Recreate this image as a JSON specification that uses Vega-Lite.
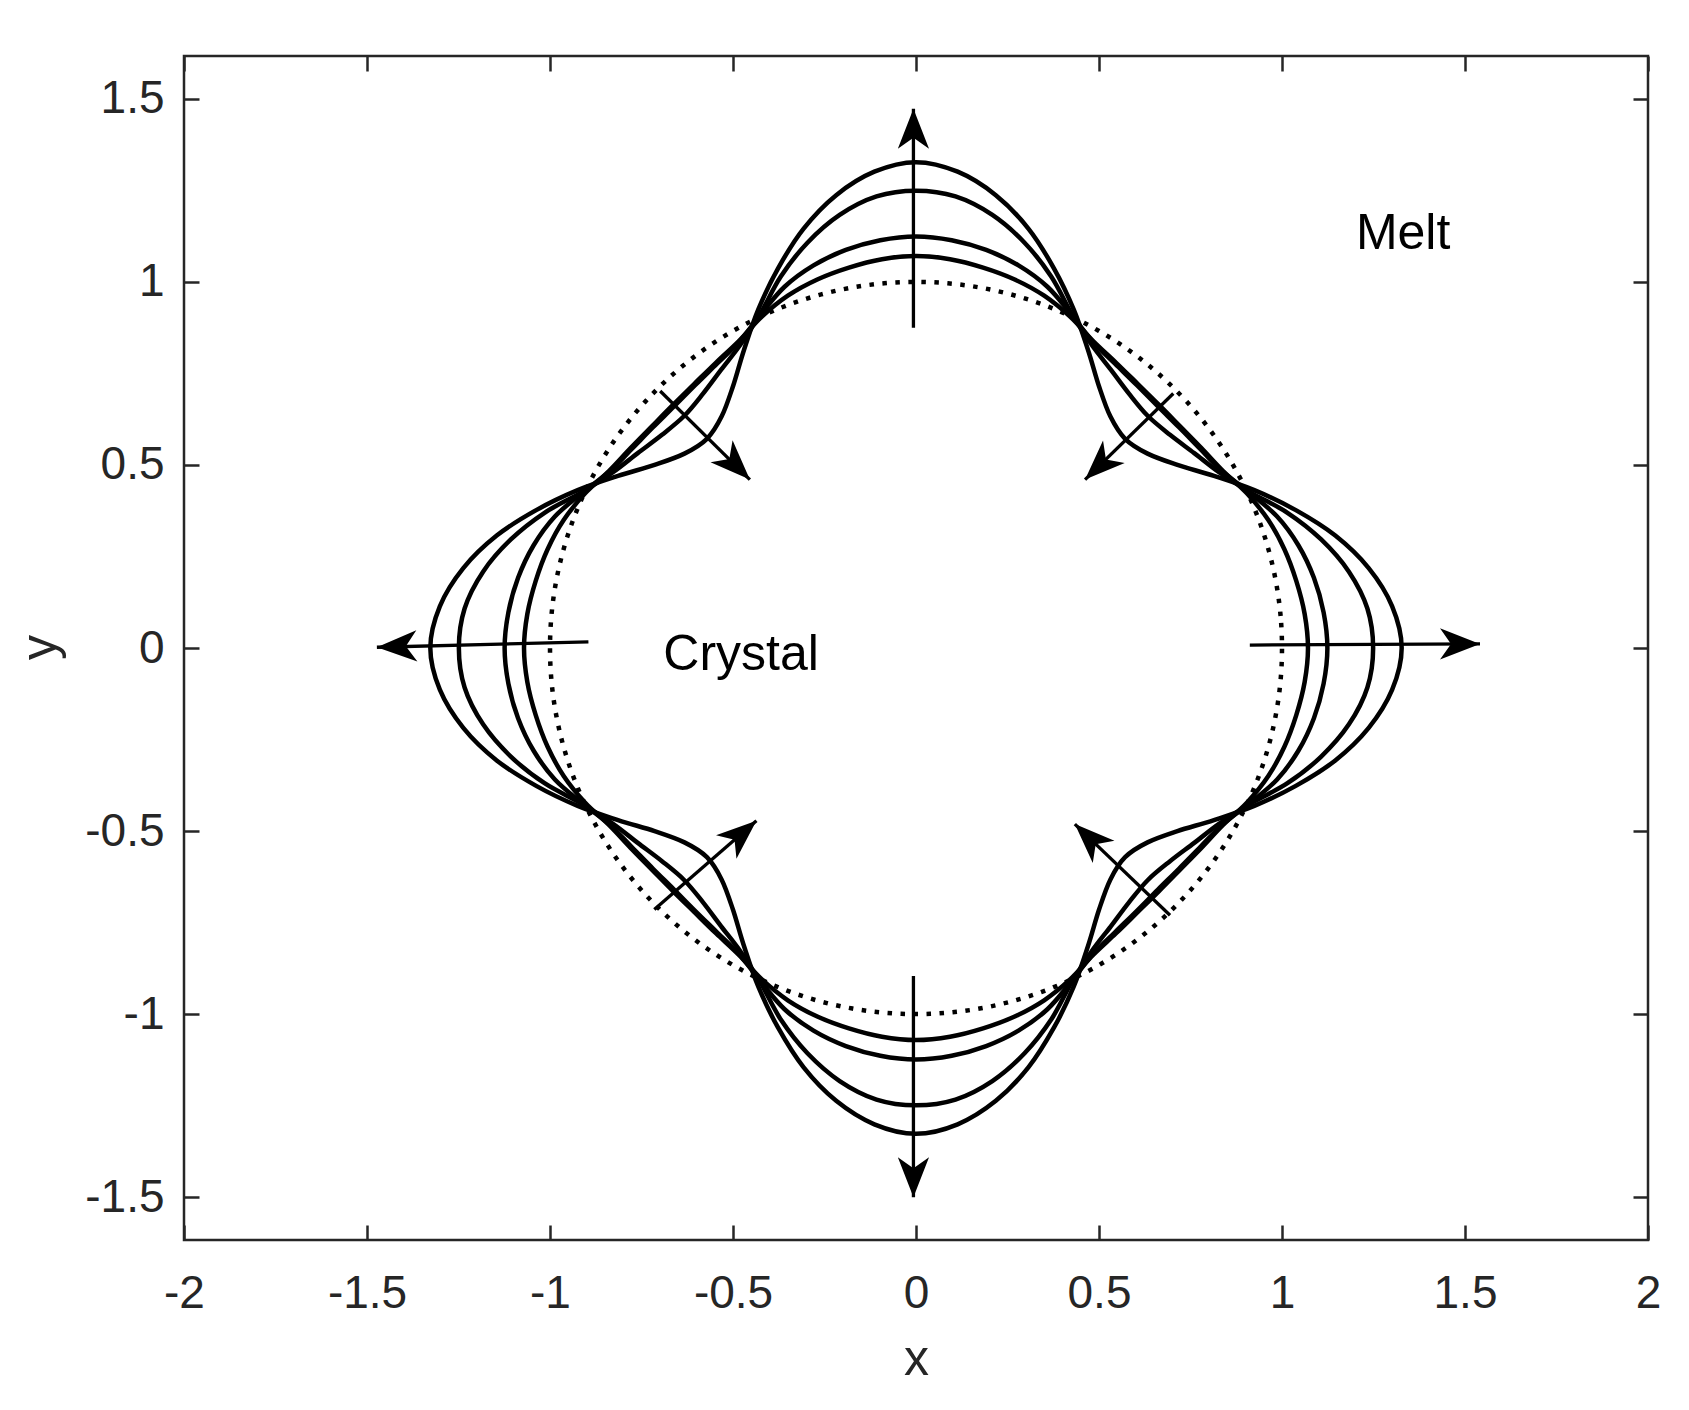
{
"$schema":"https://vega.github.io/schema/vega-lite/v6.json",
"width":1464,"height":1184,
"autosize":"none",
"padding":{"left":184,"top":56,"right":41,"bottom":170},
"background":"white",
"config":{"view":{"stroke":"#262626","strokeWidth":2.5},"font":"Liberation Sans"},
"datasets":{
"circle":[
{"i":0,"x":1,"y":0},{"i":1,"x":0.9962,"y":0.0872},{"i":2,"x":0.9848,"y":0.1736},{"i":3,"x":0.9659,"y":0.2588},{"i":4,"x":0.9397,"y":0.342},{"i":5,"x":0.9063,"y":0.4226},{"i":6,"x":0.866,"y":0.5},{"i":7,"x":0.8192,"y":0.5736},{"i":8,"x":0.766,"y":0.6428},{"i":9,"x":0.7071,"y":0.7071},
{"i":10,"x":0.6428,"y":0.766},{"i":11,"x":0.5736,"y":0.8192},{"i":12,"x":0.5,"y":0.866},{"i":13,"x":0.4226,"y":0.9063},{"i":14,"x":0.342,"y":0.9397},{"i":15,"x":0.2588,"y":0.9659},{"i":16,"x":0.1736,"y":0.9848},{"i":17,"x":0.0872,"y":0.9962},{"i":18,"x":0,"y":1},
{"i":19,"x":-0.0872,"y":0.9962},{"i":20,"x":-0.1736,"y":0.9848},{"i":21,"x":-0.2588,"y":0.9659},{"i":22,"x":-0.342,"y":0.9397},{"i":23,"x":-0.4226,"y":0.9063},{"i":24,"x":-0.5,"y":0.866},{"i":25,"x":-0.5736,"y":0.8192},{"i":26,"x":-0.6428,"y":0.766},{"i":27,"x":-0.7071,"y":0.7071},
{"i":28,"x":-0.766,"y":0.6428},{"i":29,"x":-0.8192,"y":0.5736},{"i":30,"x":-0.866,"y":0.5},{"i":31,"x":-0.9063,"y":0.4226},{"i":32,"x":-0.9397,"y":0.342},{"i":33,"x":-0.9659,"y":0.2588},{"i":34,"x":-0.9848,"y":0.1736},{"i":35,"x":-0.9962,"y":0.0872},{"i":36,"x":-1,"y":0},
{"i":37,"x":-0.9962,"y":-0.0872},{"i":38,"x":-0.9848,"y":-0.1736},{"i":39,"x":-0.9659,"y":-0.2588},{"i":40,"x":-0.9397,"y":-0.342},{"i":41,"x":-0.9063,"y":-0.4226},{"i":42,"x":-0.866,"y":-0.5},{"i":43,"x":-0.8192,"y":-0.5736},{"i":44,"x":-0.766,"y":-0.6428},{"i":45,"x":-0.7071,"y":-0.7071},
{"i":46,"x":-0.6428,"y":-0.766},{"i":47,"x":-0.5736,"y":-0.8192},{"i":48,"x":-0.5,"y":-0.866},{"i":49,"x":-0.4226,"y":-0.9063},{"i":50,"x":-0.342,"y":-0.9397},{"i":51,"x":-0.2588,"y":-0.9659},{"i":52,"x":-0.1736,"y":-0.9848},{"i":53,"x":-0.0872,"y":-0.9962},{"i":54,"x":0,"y":-1},
{"i":55,"x":0.0872,"y":-0.9962},{"i":56,"x":0.1736,"y":-0.9848},{"i":57,"x":0.2588,"y":-0.9659},{"i":58,"x":0.342,"y":-0.9397},{"i":59,"x":0.4226,"y":-0.9063},{"i":60,"x":0.5,"y":-0.866},{"i":61,"x":0.5736,"y":-0.8192},{"i":62,"x":0.6428,"y":-0.766},{"i":63,"x":0.7071,"y":-0.7071},
{"i":64,"x":0.766,"y":-0.6428},{"i":65,"x":0.8192,"y":-0.5736},{"i":66,"x":0.866,"y":-0.5},{"i":67,"x":0.9063,"y":-0.4226},{"i":68,"x":0.9397,"y":-0.342},{"i":69,"x":0.9659,"y":-0.2588},{"i":70,"x":0.9848,"y":-0.1736},{"i":71,"x":0.9962,"y":-0.0872}
],
"curves":[
{"curve":"c1","i":0,"x":1.071,"y":0},{"curve":"c1","i":1,"x":1.0619,"y":0.0929},{"curve":"c1","i":2,"x":1.039,"y":0.1832},{"curve":"c1","i":3,"x":1.0065,"y":0.2697},{"curve":"c1","i":4,"x":0.9622,"y":0.3502},{"curve":"c1","i":5,"x":0.9045,"y":0.4218},{"curve":"c1","i":6,"x":0.8383,"y":0.484},{"curve":"c1","i":7,"x":0.7798,"y":0.5461},{"curve":"c1","i":8,"x":0.7216,"y":0.6055},{"curve":"c1","i":9,"x":0.664,"y":0.664},
{"curve":"c1","i":10,"x":0.6055,"y":0.7216},{"curve":"c1","i":11,"x":0.5461,"y":0.7798},{"curve":"c1","i":12,"x":0.484,"y":0.8383},{"curve":"c1","i":13,"x":0.4218,"y":0.9045},{"curve":"c1","i":14,"x":0.3502,"y":0.9622},{"curve":"c1","i":15,"x":0.2697,"y":1.0065},{"curve":"c1","i":16,"x":0.1832,"y":1.039},{"curve":"c1","i":17,"x":0.0929,"y":1.0619},{"curve":"c1","i":18,"x":0,"y":1.071},
{"curve":"c1","i":19,"x":-0.0929,"y":1.0619},{"curve":"c1","i":20,"x":-0.1832,"y":1.039},{"curve":"c1","i":21,"x":-0.2697,"y":1.0065},{"curve":"c1","i":22,"x":-0.3502,"y":0.9622},{"curve":"c1","i":23,"x":-0.4218,"y":0.9045},{"curve":"c1","i":24,"x":-0.484,"y":0.8383},{"curve":"c1","i":25,"x":-0.5461,"y":0.7798},{"curve":"c1","i":26,"x":-0.6055,"y":0.7216},{"curve":"c1","i":27,"x":-0.664,"y":0.664},
{"curve":"c1","i":28,"x":-0.7216,"y":0.6055},{"curve":"c1","i":29,"x":-0.7798,"y":0.5461},{"curve":"c1","i":30,"x":-0.8383,"y":0.484},{"curve":"c1","i":31,"x":-0.9045,"y":0.4218},{"curve":"c1","i":32,"x":-0.9622,"y":0.3502},{"curve":"c1","i":33,"x":-1.0065,"y":0.2697},{"curve":"c1","i":34,"x":-1.039,"y":0.1832},{"curve":"c1","i":35,"x":-1.0619,"y":0.0929},{"curve":"c1","i":36,"x":-1.071,"y":0},
{"curve":"c1","i":37,"x":-1.0619,"y":-0.0929},{"curve":"c1","i":38,"x":-1.039,"y":-0.1832},{"curve":"c1","i":39,"x":-1.0065,"y":-0.2697},{"curve":"c1","i":40,"x":-0.9622,"y":-0.3502},{"curve":"c1","i":41,"x":-0.9045,"y":-0.4218},{"curve":"c1","i":42,"x":-0.8383,"y":-0.484},{"curve":"c1","i":43,"x":-0.7798,"y":-0.5461},{"curve":"c1","i":44,"x":-0.7216,"y":-0.6055},{"curve":"c1","i":45,"x":-0.664,"y":-0.664},
{"curve":"c1","i":46,"x":-0.6055,"y":-0.7216},{"curve":"c1","i":47,"x":-0.5461,"y":-0.7798},{"curve":"c1","i":48,"x":-0.484,"y":-0.8383},{"curve":"c1","i":49,"x":-0.4218,"y":-0.9045},{"curve":"c1","i":50,"x":-0.3502,"y":-0.9622},{"curve":"c1","i":51,"x":-0.2697,"y":-1.0065},{"curve":"c1","i":52,"x":-0.1832,"y":-1.039},{"curve":"c1","i":53,"x":-0.0929,"y":-1.0619},{"curve":"c1","i":54,"x":0,"y":-1.071},
{"curve":"c1","i":55,"x":0.0929,"y":-1.0619},{"curve":"c1","i":56,"x":0.1832,"y":-1.039},{"curve":"c1","i":57,"x":0.2697,"y":-1.0065},{"curve":"c1","i":58,"x":0.3502,"y":-0.9622},{"curve":"c1","i":59,"x":0.4218,"y":-0.9045},{"curve":"c1","i":60,"x":0.484,"y":-0.8383},{"curve":"c1","i":61,"x":0.5461,"y":-0.7798},{"curve":"c1","i":62,"x":0.6055,"y":-0.7216},{"curve":"c1","i":63,"x":0.664,"y":-0.664},
{"curve":"c1","i":64,"x":0.7216,"y":-0.6055},{"curve":"c1","i":65,"x":0.7798,"y":-0.5461},{"curve":"c1","i":66,"x":0.8383,"y":-0.484},{"curve":"c1","i":67,"x":0.9045,"y":-0.4218},{"curve":"c1","i":68,"x":0.9622,"y":-0.3502},{"curve":"c1","i":69,"x":1.0065,"y":-0.2697},{"curve":"c1","i":70,"x":1.039,"y":-0.1832},{"curve":"c1","i":71,"x":1.0619,"y":-0.0929},

{"curve":"c2","i":0,"x":1.124,"y":0},{"curve":"c2","i":1,"x":1.1137,"y":0.0974},{"curve":"c2","i":2,"x":1.0872,"y":0.1917},{"curve":"c2","i":3,"x":1.0451,"y":0.28},{"curve":"c2","i":4,"x":0.9867,"y":0.3591},{"curve":"c2","i":5,"x":0.9108,"y":0.4247},{"curve":"c2","i":6,"x":0.8366,"y":0.483},{"curve":"c2","i":7,"x":0.7766,"y":0.5437},{"curve":"c2","i":8,"x":0.7185,"y":0.6029},{"curve":"c2","i":9,"x":0.6604,"y":0.6604},
{"curve":"c2","i":10,"x":0.6029,"y":0.7185},{"curve":"c2","i":11,"x":0.5437,"y":0.7766},{"curve":"c2","i":12,"x":0.483,"y":0.8366},{"curve":"c2","i":13,"x":0.4247,"y":0.9108},{"curve":"c2","i":14,"x":0.3591,"y":0.9867},{"curve":"c2","i":15,"x":0.28,"y":1.0451},{"curve":"c2","i":16,"x":0.1917,"y":1.0872},{"curve":"c2","i":17,"x":0.0974,"y":1.1137},{"curve":"c2","i":18,"x":0,"y":1.124},
{"curve":"c2","i":19,"x":-0.0974,"y":1.1137},{"curve":"c2","i":20,"x":-0.1917,"y":1.0872},{"curve":"c2","i":21,"x":-0.28,"y":1.0451},{"curve":"c2","i":22,"x":-0.3591,"y":0.9867},{"curve":"c2","i":23,"x":-0.4247,"y":0.9108},{"curve":"c2","i":24,"x":-0.483,"y":0.8366},{"curve":"c2","i":25,"x":-0.5437,"y":0.7766},{"curve":"c2","i":26,"x":-0.6029,"y":0.7185},{"curve":"c2","i":27,"x":-0.6604,"y":0.6604},
{"curve":"c2","i":28,"x":-0.7185,"y":0.6029},{"curve":"c2","i":29,"x":-0.7766,"y":0.5437},{"curve":"c2","i":30,"x":-0.8366,"y":0.483},{"curve":"c2","i":31,"x":-0.9108,"y":0.4247},{"curve":"c2","i":32,"x":-0.9867,"y":0.3591},{"curve":"c2","i":33,"x":-1.0451,"y":0.28},{"curve":"c2","i":34,"x":-1.0872,"y":0.1917},{"curve":"c2","i":35,"x":-1.1137,"y":0.0974},{"curve":"c2","i":36,"x":-1.124,"y":0},
{"curve":"c2","i":37,"x":-1.1137,"y":-0.0974},{"curve":"c2","i":38,"x":-1.0872,"y":-0.1917},{"curve":"c2","i":39,"x":-1.0451,"y":-0.28},{"curve":"c2","i":40,"x":-0.9867,"y":-0.3591},{"curve":"c2","i":41,"x":-0.9108,"y":-0.4247},{"curve":"c2","i":42,"x":-0.8366,"y":-0.483},{"curve":"c2","i":43,"x":-0.7766,"y":-0.5437},{"curve":"c2","i":44,"x":-0.7185,"y":-0.6029},{"curve":"c2","i":45,"x":-0.6604,"y":-0.6604},
{"curve":"c2","i":46,"x":-0.6029,"y":-0.7185},{"curve":"c2","i":47,"x":-0.5437,"y":-0.7766},{"curve":"c2","i":48,"x":-0.483,"y":-0.8366},{"curve":"c2","i":49,"x":-0.4247,"y":-0.9108},{"curve":"c2","i":50,"x":-0.3591,"y":-0.9867},{"curve":"c2","i":51,"x":-0.28,"y":-1.0451},{"curve":"c2","i":52,"x":-0.1917,"y":-1.0872},{"curve":"c2","i":53,"x":-0.0974,"y":-1.1137},{"curve":"c2","i":54,"x":0,"y":-1.124},
{"curve":"c2","i":55,"x":0.0974,"y":-1.1137},{"curve":"c2","i":56,"x":0.1917,"y":-1.0872},{"curve":"c2","i":57,"x":0.28,"y":-1.0451},{"curve":"c2","i":58,"x":0.3591,"y":-0.9867},{"curve":"c2","i":59,"x":0.4247,"y":-0.9108},{"curve":"c2","i":60,"x":0.483,"y":-0.8366},{"curve":"c2","i":61,"x":0.5437,"y":-0.7766},{"curve":"c2","i":62,"x":0.6029,"y":-0.7185},{"curve":"c2","i":63,"x":0.6604,"y":-0.6604},
{"curve":"c2","i":64,"x":0.7185,"y":-0.6029},{"curve":"c2","i":65,"x":0.7766,"y":-0.5437},{"curve":"c2","i":66,"x":0.8366,"y":-0.483},{"curve":"c2","i":67,"x":0.9108,"y":-0.4247},{"curve":"c2","i":68,"x":0.9867,"y":-0.3591},{"curve":"c2","i":69,"x":1.0451,"y":-0.28},{"curve":"c2","i":70,"x":1.0872,"y":-0.1917},{"curve":"c2","i":71,"x":1.1137,"y":-0.0974},

{"curve":"c3","i":0,"x":1.249,"y":0},{"curve":"c3","i":1,"x":1.2333,"y":0.1079},{"curve":"c3","i":2,"x":1.1828,"y":0.2086},{"curve":"c3","i":3,"x":1.107,"y":0.2966},{"curve":"c3","i":4,"x":1.0149,"y":0.3694},{"curve":"c3","i":5,"x":0.9126,"y":0.4256},{"curve":"c3","i":6,"x":0.8297,"y":0.479},{"curve":"c3","i":7,"x":0.7602,"y":0.5323},{"curve":"c3","i":8,"x":0.694,"y":0.5824},{"curve":"c3","i":9,"x":0.6336,"y":0.6336},
{"curve":"c3","i":10,"x":0.5824,"y":0.694},{"curve":"c3","i":11,"x":0.5323,"y":0.7602},{"curve":"c3","i":12,"x":0.479,"y":0.8297},{"curve":"c3","i":13,"x":0.4256,"y":0.9126},{"curve":"c3","i":14,"x":0.3694,"y":1.0149},{"curve":"c3","i":15,"x":0.2966,"y":1.107},{"curve":"c3","i":16,"x":0.2086,"y":1.1828},{"curve":"c3","i":17,"x":0.1079,"y":1.2333},{"curve":"c3","i":18,"x":0,"y":1.249},
{"curve":"c3","i":19,"x":-0.1079,"y":1.2333},{"curve":"c3","i":20,"x":-0.2086,"y":1.1828},{"curve":"c3","i":21,"x":-0.2966,"y":1.107},{"curve":"c3","i":22,"x":-0.3694,"y":1.0149},{"curve":"c3","i":23,"x":-0.4256,"y":0.9126},{"curve":"c3","i":24,"x":-0.479,"y":0.8297},{"curve":"c3","i":25,"x":-0.5323,"y":0.7602},{"curve":"c3","i":26,"x":-0.5824,"y":0.694},{"curve":"c3","i":27,"x":-0.6336,"y":0.6336},
{"curve":"c3","i":28,"x":-0.694,"y":0.5824},{"curve":"c3","i":29,"x":-0.7602,"y":0.5323},{"curve":"c3","i":30,"x":-0.8297,"y":0.479},{"curve":"c3","i":31,"x":-0.9126,"y":0.4256},{"curve":"c3","i":32,"x":-1.0149,"y":0.3694},{"curve":"c3","i":33,"x":-1.107,"y":0.2966},{"curve":"c3","i":34,"x":-1.1828,"y":0.2086},{"curve":"c3","i":35,"x":-1.2333,"y":0.1079},{"curve":"c3","i":36,"x":-1.249,"y":0},
{"curve":"c3","i":37,"x":-1.2333,"y":-0.1079},{"curve":"c3","i":38,"x":-1.1828,"y":-0.2086},{"curve":"c3","i":39,"x":-1.107,"y":-0.2966},{"curve":"c3","i":40,"x":-1.0149,"y":-0.3694},{"curve":"c3","i":41,"x":-0.9126,"y":-0.4256},{"curve":"c3","i":42,"x":-0.8297,"y":-0.479},{"curve":"c3","i":43,"x":-0.7602,"y":-0.5323},{"curve":"c3","i":44,"x":-0.694,"y":-0.5824},{"curve":"c3","i":45,"x":-0.6336,"y":-0.6336},
{"curve":"c3","i":46,"x":-0.5824,"y":-0.694},{"curve":"c3","i":47,"x":-0.5323,"y":-0.7602},{"curve":"c3","i":48,"x":-0.479,"y":-0.8297},{"curve":"c3","i":49,"x":-0.4256,"y":-0.9126},{"curve":"c3","i":50,"x":-0.3694,"y":-1.0149},{"curve":"c3","i":51,"x":-0.2966,"y":-1.107},{"curve":"c3","i":52,"x":-0.2086,"y":-1.1828},{"curve":"c3","i":53,"x":-0.1079,"y":-1.2333},{"curve":"c3","i":54,"x":0,"y":-1.249},
{"curve":"c3","i":55,"x":0.1079,"y":-1.2333},{"curve":"c3","i":56,"x":0.2086,"y":-1.1828},{"curve":"c3","i":57,"x":0.2966,"y":-1.107},{"curve":"c3","i":58,"x":0.3694,"y":-1.0149},{"curve":"c3","i":59,"x":0.4256,"y":-0.9126},{"curve":"c3","i":60,"x":0.479,"y":-0.8297},{"curve":"c3","i":61,"x":0.5323,"y":-0.7602},{"curve":"c3","i":62,"x":0.5824,"y":-0.694},{"curve":"c3","i":63,"x":0.6336,"y":-0.6336},
{"curve":"c3","i":64,"x":0.694,"y":-0.5824},{"curve":"c3","i":65,"x":0.7602,"y":-0.5323},{"curve":"c3","i":66,"x":0.8297,"y":-0.479},{"curve":"c3","i":67,"x":0.9126,"y":-0.4256},{"curve":"c3","i":68,"x":1.0149,"y":-0.3694},{"curve":"c3","i":69,"x":1.107,"y":-0.2966},{"curve":"c3","i":70,"x":1.1828,"y":-0.2086},{"curve":"c3","i":71,"x":1.2333,"y":-0.1079},

{"curve":"c4","i":0,"x":1.327,"y":0},{"curve":"c4","i":1,"x":1.301,"y":0.1138},{"curve":"c4","i":2,"x":1.2369,"y":0.2181},{"curve":"c4","i":3,"x":1.1456,"y":0.307},{"curve":"c4","i":4,"x":1.0365,"y":0.3772},{"curve":"c4","i":5,"x":0.9244,"y":0.4311},{"curve":"c4","i":6,"x":0.8141,"y":0.47},{"curve":"c4","i":7,"x":0.7143,"y":0.5002},{"curve":"c4","i":8,"x":0.6327,"y":0.5309},{"curve":"c4","i":9,"x":0.5713,"y":0.5713},
{"curve":"c4","i":10,"x":0.5309,"y":0.6327},{"curve":"c4","i":11,"x":0.5002,"y":0.7143},{"curve":"c4","i":12,"x":0.47,"y":0.8141},{"curve":"c4","i":13,"x":0.4311,"y":0.9244},{"curve":"c4","i":14,"x":0.3772,"y":1.0365},{"curve":"c4","i":15,"x":0.307,"y":1.1456},{"curve":"c4","i":16,"x":0.2181,"y":1.2369},{"curve":"c4","i":17,"x":0.1138,"y":1.301},{"curve":"c4","i":18,"x":0,"y":1.327},
{"curve":"c4","i":19,"x":-0.1138,"y":1.301},{"curve":"c4","i":20,"x":-0.2181,"y":1.2369},{"curve":"c4","i":21,"x":-0.307,"y":1.1456},{"curve":"c4","i":22,"x":-0.3772,"y":1.0365},{"curve":"c4","i":23,"x":-0.4311,"y":0.9244},{"curve":"c4","i":24,"x":-0.47,"y":0.8141},{"curve":"c4","i":25,"x":-0.5002,"y":0.7143},{"curve":"c4","i":26,"x":-0.5309,"y":0.6327},{"curve":"c4","i":27,"x":-0.5713,"y":0.5713},
{"curve":"c4","i":28,"x":-0.6327,"y":0.5309},{"curve":"c4","i":29,"x":-0.7143,"y":0.5002},{"curve":"c4","i":30,"x":-0.8141,"y":0.47},{"curve":"c4","i":31,"x":-0.9244,"y":0.4311},{"curve":"c4","i":32,"x":-1.0365,"y":0.3772},{"curve":"c4","i":33,"x":-1.1456,"y":0.307},{"curve":"c4","i":34,"x":-1.2369,"y":0.2181},{"curve":"c4","i":35,"x":-1.301,"y":0.1138},{"curve":"c4","i":36,"x":-1.327,"y":0},
{"curve":"c4","i":37,"x":-1.301,"y":-0.1138},{"curve":"c4","i":38,"x":-1.2369,"y":-0.2181},{"curve":"c4","i":39,"x":-1.1456,"y":-0.307},{"curve":"c4","i":40,"x":-1.0365,"y":-0.3772},{"curve":"c4","i":41,"x":-0.9244,"y":-0.4311},{"curve":"c4","i":42,"x":-0.8141,"y":-0.47},{"curve":"c4","i":43,"x":-0.7143,"y":-0.5002},{"curve":"c4","i":44,"x":-0.6327,"y":-0.5309},{"curve":"c4","i":45,"x":-0.5713,"y":-0.5713},
{"curve":"c4","i":46,"x":-0.5309,"y":-0.6327},{"curve":"c4","i":47,"x":-0.5002,"y":-0.7143},{"curve":"c4","i":48,"x":-0.47,"y":-0.8141},{"curve":"c4","i":49,"x":-0.4311,"y":-0.9244},{"curve":"c4","i":50,"x":-0.3772,"y":-1.0365},{"curve":"c4","i":51,"x":-0.307,"y":-1.1456},{"curve":"c4","i":52,"x":-0.2181,"y":-1.2369},{"curve":"c4","i":53,"x":-0.1138,"y":-1.301},{"curve":"c4","i":54,"x":0,"y":-1.327},
{"curve":"c4","i":55,"x":0.1138,"y":-1.301},{"curve":"c4","i":56,"x":0.2181,"y":-1.2369},{"curve":"c4","i":57,"x":0.307,"y":-1.1456},{"curve":"c4","i":58,"x":0.3772,"y":-1.0365},{"curve":"c4","i":59,"x":0.4311,"y":-0.9244},{"curve":"c4","i":60,"x":0.47,"y":-0.8141},{"curve":"c4","i":61,"x":0.5002,"y":-0.7143},{"curve":"c4","i":62,"x":0.5309,"y":-0.6327},{"curve":"c4","i":63,"x":0.5713,"y":-0.5713},
{"curve":"c4","i":64,"x":0.6327,"y":-0.5309},{"curve":"c4","i":65,"x":0.7143,"y":-0.5002},{"curve":"c4","i":66,"x":0.8141,"y":-0.47},{"curve":"c4","i":67,"x":0.9244,"y":-0.4311},{"curve":"c4","i":68,"x":1.0365,"y":-0.3772},{"curve":"c4","i":69,"x":1.1456,"y":-0.307},{"curve":"c4","i":70,"x":1.2369,"y":-0.2181},{"curve":"c4","i":71,"x":1.301,"y":-0.1138}
],
"arrows":[
{"arrow":"up","i":0,"x":-0.007,"y":0.875},{"arrow":"up","i":1,"x":-0.007,"y":1.473},
{"arrow":"down","i":0,"x":-0.007,"y":-0.896},{"arrow":"down","i":1,"x":-0.007,"y":-1.5},
{"arrow":"right","i":0,"x":0.912,"y":0.008},{"arrow":"right","i":1,"x":1.541,"y":0.011},
{"arrow":"left","i":0,"x":-0.895,"y":0.017},{"arrow":"left","i":1,"x":-1.473,"y":0.002},
{"arrow":"ur","i":0,"x":0.703,"y":0.695},{"arrow":"ur","i":1,"x":0.462,"y":0.46},
{"arrow":"ul","i":0,"x":-0.699,"y":0.702},{"arrow":"ul","i":1,"x":-0.454,"y":0.46},
{"arrow":"ll","i":0,"x":-0.715,"y":-0.714},{"arrow":"ll","i":1,"x":-0.436,"y":-0.472},
{"arrow":"lr","i":0,"x":0.694,"y":-0.73},{"arrow":"lr","i":1,"x":0.434,"y":-0.481}
],
"heads":[
{"arrow":"up","x":-0.007,"y":1.473,"dir":0},
{"arrow":"down","x":-0.007,"y":-1.5,"dir":180},
{"arrow":"right","x":1.541,"y":0.011,"dir":90},
{"arrow":"left","x":-1.473,"y":0.002,"dir":268},
{"arrow":"ur","x":0.462,"y":0.46,"dir":226},
{"arrow":"ul","x":-0.454,"y":0.46,"dir":135},
{"arrow":"ll","x":-0.436,"y":-0.472,"dir":49},
{"arrow":"lr","x":0.434,"y":-0.481,"dir":314}
],
"notes":[
{"label":"Melt","x":1.331,"y":1.089},
{"label":"Crystal","x":-0.478,"y":-0.059}
]
},
"layer":[
{
"data":{"name":"circle"},
"mark":{"type":"line","color":"black","strokeWidth":4.5,"strokeDash":[4.5,8.5],"strokeCap":"butt","interpolate":"cardinal-closed"},
"encoding":{
"x":{"field":"x","type":"quantitative","scale":{"domain":[-2,2],"nice":false,"zero":false},
"axis":{"orient":"bottom","values":[-2,-1.5,-1,-0.5,0,0.5,1,1.5,2],"labelExpr":"replace(format(datum.value,'~g'),'\u2212','-')","tickSize":-15,"tickWidth":2.5,"tickColor":"#262626","labelPadding":82,"labelBaseline":"alphabetic","labelFontSize":46,"labelFont":"Liberation Sans","labelColor":"#262626","labelFlush":false,"labelOverlap":false,"domain":false,"grid":false,"title":"x","titleFont":"Liberation Sans","titleFontSize":50,"titleFontWeight":"normal","titleColor":"#262626","titleBaseline":"alphabetic","titleAlign":"center","titleX":732,"titleY":134}},
"y":{"field":"y","type":"quantitative","scale":{"domain":[-1.617,1.617],"nice":false,"zero":false},
"axis":{"orient":"left","values":[-1.5,-1,-0.5,0,0.5,1,1.5],"labelExpr":"replace(format(datum.value,'~g'),'\u2212','-')","tickSize":-15,"tickWidth":2.5,"tickColor":"#262626","labelPadding":35,"labelBaseline":"middle","labelFontSize":46,"labelFont":"Liberation Sans","labelColor":"#262626","labelFlush":false,"labelOverlap":false,"domain":false,"grid":false,"title":"y","titleFont":"Liberation Sans","titleFontSize":50,"titleFontWeight":"normal","titleColor":"#262626","titleAngle":-90,"titleBaseline":"alphabetic","titleAlign":"center","titleX":-129,"titleY":591}},
"order":{"field":"i","type":"quantitative"}
}
},
{
"data":{"name":"curves"},
"mark":{"type":"line","color":"black","strokeWidth":4.5,"interpolate":"cardinal-closed"},
"encoding":{
"x":{"field":"x","type":"quantitative","scale":{"domain":[-2,2],"nice":false,"zero":false},
"axis":{"orient":"top","values":[-2,-1.5,-1,-0.5,0,0.5,1,1.5,2],"labels":false,"tickSize":-15,"tickWidth":2.5,"tickColor":"#262626","domain":false,"grid":false,"title":null}},
"y":{"field":"y","type":"quantitative","scale":{"domain":[-1.617,1.617],"nice":false,"zero":false},
"axis":{"orient":"right","values":[-1.5,-1,-0.5,0,0.5,1,1.5],"labels":false,"tickSize":-15,"tickWidth":2.5,"tickColor":"#262626","domain":false,"grid":false,"title":null}},
"detail":{"field":"curve","type":"nominal"},
"order":{"field":"i","type":"quantitative"}
}
},
{
"data":{"name":"arrows"},
"mark":{"type":"line","color":"black","strokeWidth":3.3,"strokeCap":"butt"},
"encoding":{
"x":{"field":"x","type":"quantitative","scale":{"domain":[-2,2],"nice":false,"zero":false},"axis":null},
"y":{"field":"y","type":"quantitative","scale":{"domain":[-1.617,1.617],"nice":false,"zero":false},"axis":null},
"detail":{"field":"arrow","type":"nominal"},
"order":{"field":"i","type":"quantitative"}
}
},
{
"data":{"name":"heads"},
"mark":{"type":"point","filled":true,"color":"black","opacity":1,"strokeWidth":0,"size":1600,"shape":"M0,0L0.78,2L0,1.45L-0.78,2Z"},
"encoding":{
"x":{"field":"x","type":"quantitative","scale":{"domain":[-2,2],"nice":false,"zero":false},"axis":null},
"y":{"field":"y","type":"quantitative","scale":{"domain":[-1.617,1.617],"nice":false,"zero":false},"axis":null},
"angle":{"field":"dir","type":"quantitative","scale":null}
}
},
{
"data":{"name":"notes"},
"mark":{"type":"text","font":"Liberation Sans","fontSize":50,"color":"black","align":"center","baseline":"alphabetic"},
"encoding":{
"x":{"field":"x","type":"quantitative","scale":{"domain":[-2,2],"nice":false,"zero":false},"axis":null},
"y":{"field":"y","type":"quantitative","scale":{"domain":[-1.617,1.617],"nice":false,"zero":false},"axis":null},
"text":{"field":"label","type":"nominal"}
}
}
],
"resolve":{"axis":{"x":"independent","y":"independent"}}
}
